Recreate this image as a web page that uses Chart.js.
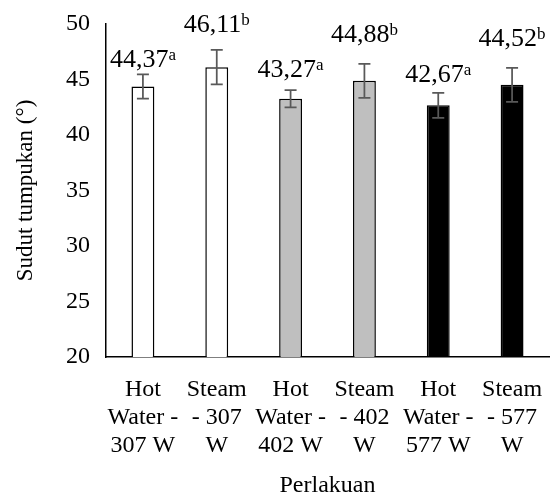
<!DOCTYPE html>
<html>
<head>
<meta charset="utf-8">
<script src="https://cdn.jsdelivr.net/npm/chart.js@4"></script>
<style>
  html, body { margin: 0; padding: 0; background: #ffffff; }
  #wrap { width: 558px; height: 497px; }
</style>
</head>
<body>
<div id="wrap"><canvas id="c" width="558" height="497"></canvas></div>
<script>
// Treatment categories (multi-line tick labels)
const categories = [
  ["Hot", "Water -", "307 W"],
  ["Steam", "- 307", "W"],
  ["Hot", "Water -", "402 W"],
  ["Steam", "- 402", "W"],
  ["Hot", "Water -", "577 W"],
  ["Steam", "- 577", "W"]
];
// Mean angle of repose (degrees)
const values = [44.37, 46.11, 43.27, 44.88, 42.67, 44.52];
// Standard deviation for the error bars
const errors = [1.10, 1.55, 0.77, 1.53, 1.13, 1.53];
// Significance letters
const letters = ["a", "b", "a", "b", "a", "b"];
// Value axis ticks
const yTicks = [20, 25, 30, 35, 40, 45, 50];

const FONT = '"Liberation Serif", "Times New Roman", serif';
const barFill = ["#ffffff", "#ffffff", "#bfbfbf", "#bfbfbf", "#000000", "#000000"];
// vertical gap (px) between the top of each error bar and its label baseline
const labelGap = [7, 18, 13, 22, 11, 22];

const errorBarsAndLabels = {
  id: "errorBarsAndLabels",
  afterDatasetsDraw(chart) {
    const ctx = chart.ctx;
    const y = chart.scales.y;
    const meta = chart.getDatasetMeta(0);
    ctx.save();
    meta.data.forEach((bar, i) => {
      const cx = bar.x;
      const top = y.getPixelForValue(values[i] + errors[i]);
      const bot = y.getPixelForValue(values[i] - errors[i]);
      // error bar
      ctx.strokeStyle = "#595959";
      ctx.lineWidth = 1.75;
      ctx.beginPath();
      ctx.moveTo(cx, top); ctx.lineTo(cx, bot);
      ctx.moveTo(cx - 6, top); ctx.lineTo(cx + 6, top);
      ctx.moveTo(cx - 6, bot); ctx.lineTo(cx + 6, bot);
      ctx.stroke();
      // value label with superscript letter
      const main = values[i].toFixed(2).replace(".", ",");
      ctx.fillStyle = "#000000";
      ctx.textBaseline = "alphabetic";
      ctx.textAlign = "left";
      ctx.font = "26px " + FONT;
      const wMain = ctx.measureText(main).width;
      ctx.font = "17px " + FONT;
      const wSup = ctx.measureText(letters[i]).width;
      const x0 = cx - (wMain + wSup) / 2;
      const base = top - labelGap[i];
      ctx.font = "26px " + FONT;
      ctx.fillText(main, x0, base);
      ctx.font = "17px " + FONT;
      ctx.fillText(letters[i], x0 + wMain, base - 7);
    });
    ctx.restore();
  }
};

new Chart(document.getElementById("c"), {
  type: "bar",
  data: {
    labels: categories,
    datasets: [{
      data: values,
      backgroundColor: barFill,
      borderColor: "#000000",
      borderWidth: 1.5,
      barPercentage: 0.31,
      categoryPercentage: 1
    }]
  },
  options: {
    responsive: false,
    animation: false,
    devicePixelRatio: 1,
    layout: { padding: { top: 24, right: 9, left: 0, bottom: 0 } },
    plugins: {
      legend: { display: false },
      tooltip: { enabled: false }
    },
    scales: {
      x: {
        grid: { display: false },
        border: { display: true, color: "#000000", width: 1.5 },
        ticks: {
          color: "#000000",
          font: { family: FONT, size: 24, lineHeight: 28 / 24 },
          padding: 11,
          autoSkip: false,
          maxRotation: 0,
          minRotation: 0
        },
        title: {
          display: true,
          text: "Perlakuan",
          color: "#000000",
          font: { family: FONT, size: 24, lineHeight: 1 },
          padding: { top: 0, bottom: -1 }
        },
        afterFit(scale) {
          scale.height = 140;
          scale.paddingLeft = 0;
          scale.paddingRight = 0;
        }
      },
      y: {
        min: 20,
        max: 50,
        grid: { display: false },
        border: { display: true, color: "#000000", width: 1.5 },
        afterBuildTicks(scale) { scale.ticks = yTicks.map(v => ({ value: v })); },
        ticks: {
          color: "#000000",
          font: { family: FONT, size: 24 },
          padding: 8
        },
        title: {
          display: true,
          text: "Sudut tumpukan (°)",
          color: "#000000",
          font: { family: FONT, size: 23, lineHeight: 1 },
          padding: { top: 14, bottom: 0 }
        },
        afterFit(scale) {
          scale.width = 106;
          scale.paddingTop = 0;
          scale.paddingBottom = 0;
        }
      }
    }
  },
  plugins: [errorBarsAndLabels]
});
</script>
</body>
</html>
